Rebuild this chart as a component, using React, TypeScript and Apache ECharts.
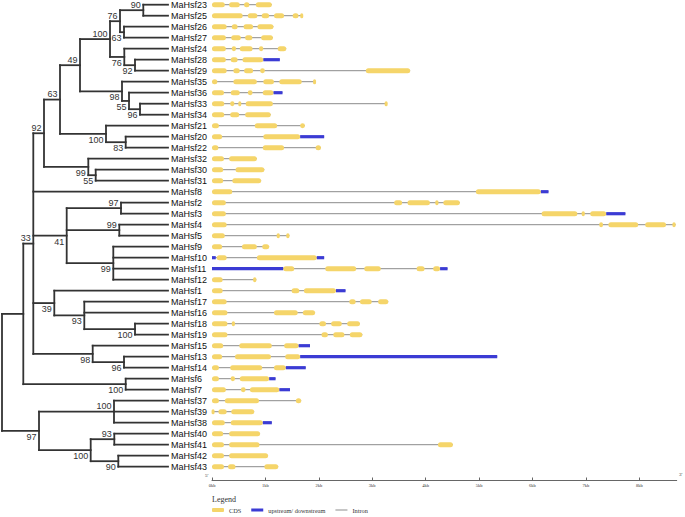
import React, { useEffect, useRef } from "react";
import * as echarts from "echarts";

// ---- categories (display order, top to bottom) ----
const geneNames = [
  "MaHsf23", "MaHsf25", "MaHsf26", "MaHsf27", "MaHsf24", "MaHsf28", "MaHsf29", "MaHsf35", "MaHsf36",
  "MaHsf33", "MaHsf34", "MaHsf21", "MaHsf20", "MaHsf22", "MaHsf32", "MaHsf30", "MaHsf31", "MaHsf8",
  "MaHsf2", "MaHsf3", "MaHsf4", "MaHsf5", "MaHsf9", "MaHsf10", "MaHsf11", "MaHsf12", "MaHsf1",
  "MaHsf17", "MaHsf16", "MaHsf18", "MaHsf19", "MaHsf15", "MaHsf13", "MaHsf14", "MaHsf6", "MaHsf7",
  "MaHsf37", "MaHsf39", "MaHsf38", "MaHsf40", "MaHsf41", "MaHsf42", "MaHsf43",
];

// ---- tree: [id, branch depth, bootstrap, label side (1 above / -1 below), children] ----
const leafDepth = 166;
const treeClades: [string, number, number | null, number, string[]][] = [
  ["c1", 141.3, 90, 1, ["MaHsf23", "MaHsf25"]],
  ["c2", 122, 63, -1, ["MaHsf26", "MaHsf27"]],
  ["c3", 118, 76, 1, ["c1", "c2"]],
  ["c4", 133, 92, -1, ["MaHsf28", "MaHsf29"]],
  ["c5", 122.3, 76, -1, ["MaHsf24", "c4"]],
  ["c6", 108, 100, 1, ["c3", "c5"]],
  ["c7", 138, 96, -1, ["MaHsf33", "MaHsf34"]],
  ["c8", 127, 55, -1, ["MaHsf36", "c7"]],
  ["c9", 120, 98, -1, ["MaHsf35", "c8"]],
  ["c10", 78, 49, 1, ["c6", "c9"]],
  ["c11", 123.7, 83, -1, ["MaHsf20", "MaHsf22"]],
  ["c12", 104, 100, -1, ["MaHsf21", "c11"]],
  ["c13", 58, 63, 1, ["c10", "c12"]],
  ["c14", 93.7, 55, -1, ["MaHsf30", "MaHsf31"]],
  ["c15", 86.3, 99, -1, ["MaHsf32", "c14"]],
  ["c16", 42, 92, 1, ["c13", "c15"]],
  ["c17", 119, 97, 1, ["MaHsf2", "MaHsf3"]],
  ["c18", 117.3, 99, 1, ["MaHsf4", "MaHsf5"]],
  ["c19", 111.3, 99, -1, ["MaHsf9", "MaHsf10", "MaHsf11", "MaHsf12"]],
  ["c20", 64.7, 41, -1, ["c17", "c18", "c19"]],
  ["c21", 133, 100, -1, ["MaHsf18", "MaHsf19"]],
  ["c22", 82.3, 93, -1, ["MaHsf17", "MaHsf16", "c21"]],
  ["c23", 52.3, 39, -1, ["MaHsf1", "c22"]],
  ["c24", 122, 96, -1, ["MaHsf13", "MaHsf14"]],
  ["c25", 90.7, 98, -1, ["MaHsf15", "c24"]],
  ["c26", 31.3, 33, 1, ["c16", "MaHsf8", "c20", "c23", "c25"]],
  ["c27", 123.7, 100, -1, ["MaHsf6", "MaHsf7"]],
  ["c28", 21.3, null, 0, ["c26", "c27"]],
  ["c29", 112, 100, 1, ["MaHsf37", "MaHsf39", "MaHsf38"]],
  ["c30", 112.3, 93, 1, ["MaHsf40", "MaHsf41"]],
  ["c31", 116.3, 90, -1, ["MaHsf42", "MaHsf43"]],
  ["c32", 88.7, 100, -1, ["c30", "c31"]],
  ["c33", 37, 97, -1, ["c29", "c32"]],
  ["root", 0, null, 0, ["c28", "c33"]],
];

// ---- gene structures (kb), aligned with geneNames ----
const cdsExons: number[][][] = [
  [[0, 0.24], [0.32, 0.52], [0.6, 0.7], [0.82, 1.12]],
  [[0, 0.575], [0.67, 0.85], [0.93, 1.07], [1.16, 1.35], [1.51, 1.62], [1.66, 1.7]],
  [[0, 0.275], [0.37, 0.48], [0.59, 0.77], [0.85, 1.15]],
  [[0, 0.26], [0.36, 0.54], [0.62, 0.755], [0.92, 1.14]],
  [[0, 0.26], [0.37, 0.45], [0.52, 0.76], [0.88, 0.96], [1.23, 1.39]],
  [[0, 0.26], [0.35, 0.48], [0.57, 0.96]],
  [[0, 0.275], [0.4, 0.52], [0.6, 0.77], [0.9, 0.99], [2.88, 3.71]],
  [[0, 0.1], [0.4, 0.84], [0.96, 1.16], [1.26, 1.68], [1.9, 1.94]],
  [[0, 0.225], [0.35, 0.52], [0.67, 0.76], [0.95, 1.15]],
  [[0, 0.23], [0.34, 0.42], [0.5, 0.54], [0.63, 1.14], [3.24, 3.28]],
  [[0, 0.23], [0.34, 0.51], [0.62, 1.1]],
  [[0, 0.13], [0.8, 1.22], [1.65, 1.74]],
  [[0, 0.19], [0.96, 1.65]],
  [[0, 0.12], [0.95, 1.35], [1.94, 2.04]],
  [[0, 0.225], [0.32, 0.84]],
  [[0, 0.21], [0.44, 0.98]],
  [[0, 0.21], [0.38, 0.92]],
  [[0, 0.38], [4.94, 6.155]],
  [[0, 0.26], [3.41, 3.56], [3.66, 4.08], [4.18, 4.24], [4.33, 4.64]],
  [[0, 0.26], [6.17, 6.84], [6.92, 6.98], [7.08, 7.38]],
  [[0, 0.275], [7.25, 7.32], [7.42, 7.98], [8.11, 8.5], [8.62, 8.68]],
  [[0, 0.24], [1.21, 1.27], [1.39, 1.45]],
  [[0, 0.19], [0.56, 0.84], [0.94, 1.07]],
  [[0.09, 0.275], [0.84, 1.96]],
  [[1.335, 1.54], [2.12, 2.7], [2.85, 3.16], [3.83, 3.98], [4.14, 4.27]],
  [[0, 0.2], [0.77, 0.83]],
  [[0, 0.2], [1.49, 1.635], [1.72, 2.32]],
  [[0, 0.275], [2.57, 2.69], [2.77, 2.99], [3.11, 3.3]],
  [[0, 0.29], [1.16, 1.605], [1.7, 1.93]],
  [[0, 0.29], [0.37, 0.43], [2.01, 2.135], [2.23, 2.43], [2.53, 2.77]],
  [[0, 0.29], [2.05, 2.17], [2.27, 2.48], [2.58, 2.815]],
  [[0, 0.21], [0.51, 1.12], [1.35, 1.62]],
  [[0, 0.19], [0.43, 1.105], [1.37, 1.65]],
  [[0, 0.13], [0.34, 0.94], [1.16, 1.38]],
  [[0, 0.13], [0.35, 0.43], [0.52, 1.07]],
  [[0, 0.26], [0.54, 0.63], [0.71, 1.26]],
  [[0, 0.13], [0.24, 0.88], [1.57, 1.67]],
  [[0, 0.04], [0.12, 0.275], [0.36, 0.79]],
  [[0, 0.24], [0.35, 0.95]],
  [[0, 0.21], [0.32, 0.9]],
  [[0, 0.225], [0.32, 0.89], [4.23, 4.51]],
  [[0, 0.225], [0.32, 1.05]],
  [[0, 0.225], [0.3, 0.44], [0.98, 1.24]],
];

const utrRegions: number[][][] = [
  [], [], [], [], [], [[0.96, 1.27]], [], [], [[1.15, 1.32]], [], [], [], [[1.65, 2.1]], [], [], [], [],
  [[6.155, 6.3]], [], [[7.38, 7.74]], [], [], [], [[0, 0.07], [1.96, 2.1]], [[0, 1.335], [4.27, 4.41]],
  [], [[2.32, 2.5]], [], [], [], [], [[1.62, 1.835]], [[1.65, 5.34]], [[1.38, 1.755]], [[1.07, 1.19]],
  [[1.26, 1.46]], [], [], [[0.95, 1.12]], [], [], [], [],
];

// ---- scale bar ticks (kb) ----
const scaleTicks = [0, 1, 2, 3, 4, 5, 6, 7, 8];
const scaleMax = 8.7;

const legendNames = ["CDS", "upstream/ downstream", "Intron"];

export default function App() {
  const ref = useRef<HTMLDivElement>(null);

  useEffect(() => {
    if (!ref.current) return;
    const chart = echarts.init(ref.current, null, { renderer: "svg" });

    // tree layout
    const pos: Record<string, { x: number; y: number }> = {};
    geneNames.forEach((n, i) => (pos[n] = { x: leafDepth, y: i }));
    const treeSegs: number[][] = [];
    const supports: number[][] = [];
    for (const [id, depth, sup, side, kids] of treeClades) {
      const ys = kids.map((k) => pos[k].y);
      const y0 = Math.min(...ys);
      const y1 = Math.max(...ys);
      const ym = (y0 + y1) / 2;
      pos[id] = { x: depth, y: ym };
      treeSegs.push([depth, y0, depth, y1]);
      kids.forEach((k) => treeSegs.push([depth, pos[k].y, pos[k].x, pos[k].y]));
      if (sup != null) supports.push([depth, ym, sup, side]);
    }

    // gene structure data
    const introns: number[][] = [];
    const cds: number[][] = [];
    const utr: number[][] = [];
    geneNames.forEach((_, i) => {
      const all = [...cdsExons[i], ...utrRegions[i]];
      const s = Math.min(...all.map((a) => a[0]));
      const e = Math.max(...all.map((a) => a[1]));
      introns.push([s, e, i]);
      cdsExons[i].forEach((a) => cds.push([a[0], a[1], i]));
      utrRegions[i].forEach((a) => utr.push([a[0], a[1], i]));
    });

    const sansFont = '"Liberation Sans", Arial, sans-serif';
    const serifFont = '"Liberation Serif", "Times New Roman", serif';

    const barItem = (h: number, color: string, rounded: boolean, minW: number) =>
      (params: any, api: any) => {
        const a = api.coord([api.value(0), api.value(2)]);
        const b = api.coord([api.value(1), api.value(2)]);
        let x = a[0];
        let w = b[0] - a[0];
        if (w < minW) {
          x = (a[0] + b[0]) / 2 - minW / 2;
          w = minW;
        }
        return {
          type: "rect",
          shape: { x, y: a[1] - h / 2, width: w, height: h, r: rounded ? Math.min(h / 2, w / 2) : 0 },
          style: { fill: color },
        };
      };

    chart.setOption({
      animation: false,
      backgroundColor: "#ffffff",
      title: {
        text: "Legend",
        left: 212,
        top: 495,
        padding: 0,
        textStyle: { fontSize: 8, fontWeight: "normal", fontFamily: serifFont, color: "#333" },
      },
      legend: {
        left: 212,
        top: 507,
        padding: 0,
        itemWidth: 12,
        itemHeight: 4,
        itemGap: 10,
        selectedMode: false,
        textStyle: { fontSize: 6.3, fontFamily: serifFont, color: "#333" },
        data: [
          { name: legendNames[0], icon: "roundRect" },
          { name: legendNames[1], icon: "path://M0 0H12V3H0Z" },
          { name: legendNames[2], icon: "path://M0 0H12V1H0Z" },
        ],
      },
      graphic: [
        { type: "text", left: 205, top: 473, style: { text: "5'", font: `5px ${serifFont}`, fill: "#333" } },
        { type: "text", left: 679, top: 472, style: { text: "3'", font: `5px ${serifFont}`, fill: "#333" } },
      ],
      grid: [
        { left: 2, top: 4.7, width: 166, height: 462 },
        { left: 212, top: 4.7, width: 464.7, height: 462 },
      ],
      xAxis: [
        { gridIndex: 0, type: "value", min: 0, max: leafDepth, show: false },
        {
          gridIndex: 1,
          type: "value",
          position: "bottom",
          min: 0,
          max: scaleMax,
          offset: 13.8,
          axisLine: { show: true, onZero: false, lineStyle: { color: "#666", width: 1 } },
          axisTick: {
            show: true,
            inside: true,
            length: 3,
            customValues: scaleTicks,
            lineStyle: { color: "#666" },
          },
          axisLabel: {
            customValues: scaleTicks,
            formatter: (v: number) => `${v}kb`,
            fontSize: 4.5,
            margin: 2,
            color: "#333",
            fontFamily: serifFont,
          },
          splitLine: { show: false },
        },
      ],
      yAxis: [
        {
          gridIndex: 0,
          type: "value",
          min: 0,
          max: geneNames.length - 1,
          interval: 1,
          inverse: true,
          position: "right",
          axisLine: { show: false },
          axisTick: { show: false },
          splitLine: { show: false },
          axisLabel: {
            formatter: (v: number) => geneNames[v] ?? "",
            margin: 3,
            fontSize: 9,
            color: "#111",
            fontFamily: sansFont,
          },
        },
        { gridIndex: 1, type: "value", min: 0, max: geneNames.length - 1, inverse: true, show: false },
      ],
      series: [
        {
          type: "custom",
          name: "tree",
          xAxisIndex: 0,
          yAxisIndex: 0,
          silent: true,
          encode: { x: [0, 2], y: [1, 3] },
          data: treeSegs,
          renderItem: (params: any, api: any) => {
            const p1 = api.coord([api.value(0), api.value(1)]);
            const p2 = api.coord([api.value(2), api.value(3)]);
            return {
              type: "line",
              shape: { x1: p1[0], y1: p1[1], x2: p2[0], y2: p2[1] },
              style: { stroke: "#333", lineWidth: 1.8, lineCap: "square" },
            };
          },
        },
        {
          type: "custom",
          name: "bootstrap",
          xAxisIndex: 0,
          yAxisIndex: 0,
          silent: true,
          encode: { x: 0, y: 1 },
          data: supports,
          renderItem: (params: any, api: any) => {
            const p = api.coord([api.value(0), api.value(1)]);
            const up = api.value(3) > 0;
            return {
              type: "text",
              x: p[0] - 2.5,
              y: up ? p[1] - 1 : p[1] + 1.5,
              style: {
                text: String(api.value(2)),
                fill: "#333",
                font: `9px ${sansFont}`,
                align: "right",
                verticalAlign: up ? "bottom" : "top",
              },
            };
          },
        },
        {
          type: "custom",
          name: legendNames[2],
          xAxisIndex: 1,
          yAxisIndex: 1,
          silent: true,
          itemStyle: { color: "#8c8c8c" },
          encode: { x: [0, 1], y: 2 },
          data: introns,
          renderItem: (params: any, api: any) => {
            const a = api.coord([api.value(0), api.value(2)]);
            const b = api.coord([api.value(1), api.value(2)]);
            return {
              type: "line",
              shape: { x1: a[0], y1: a[1], x2: b[0], y2: b[1] },
              style: { stroke: "#8c8c8c", lineWidth: 1 },
            };
          },
        },
        {
          type: "custom",
          name: legendNames[1],
          xAxisIndex: 1,
          yAxisIndex: 1,
          silent: true,
          itemStyle: { color: "#3b3bd4" },
          encode: { x: [0, 1], y: 2 },
          data: utr,
          renderItem: barItem(3.2, "#3b3bd4", false, 2),
        },
        {
          type: "custom",
          name: legendNames[0],
          xAxisIndex: 1,
          yAxisIndex: 1,
          silent: true,
          itemStyle: { color: "#f5d56a" },
          encode: { x: [0, 1], y: 2 },
          data: cds,
          renderItem: barItem(5, "#f5d56a", true, 3),
        },
      ],
    });

    return () => chart.dispose();
  }, []);

  return (
    <div
      ref={ref}
      style={{ position: "fixed", left: 0, top: 0, width: 685, height: 517, background: "#fff" }}
    />
  );
}
